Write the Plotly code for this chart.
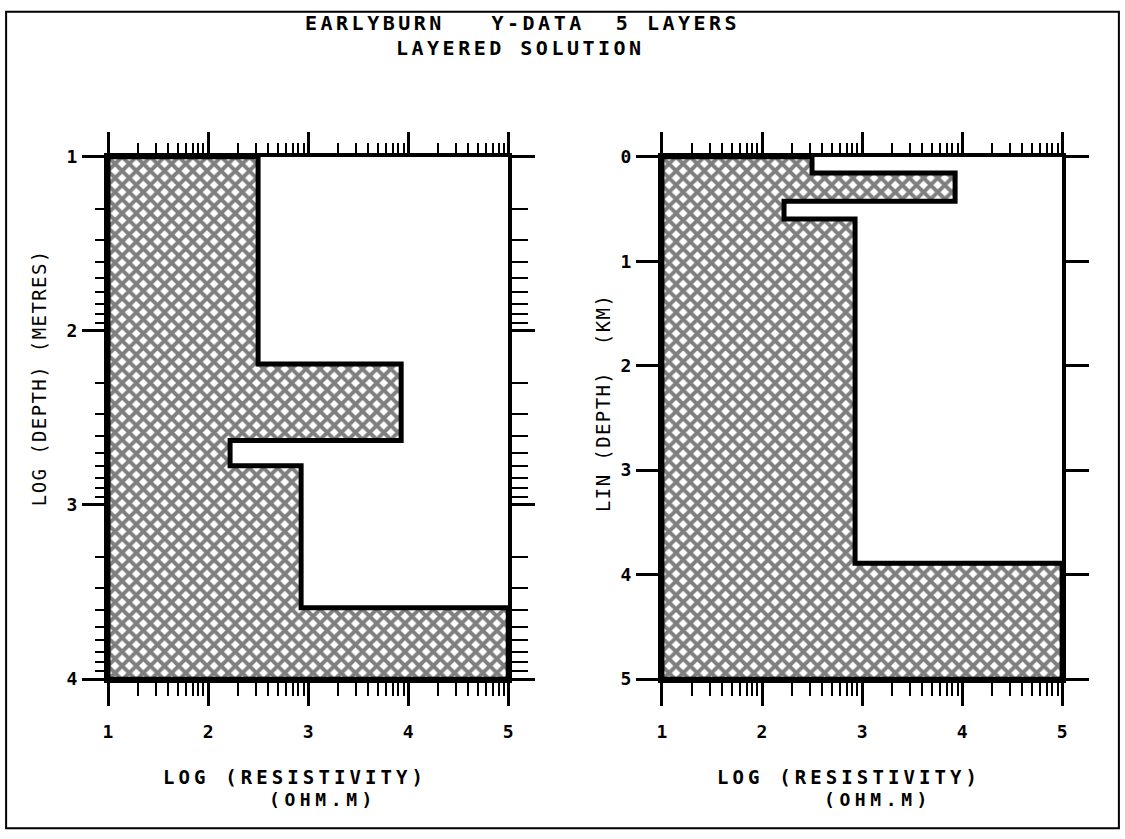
import math
import plotly.graph_objects as go

# ---- data ----
layer_log_resistivity = [2.50, 3.93, 2.22, 2.93, 5.00]   # log10(ohm.m), layers 1..5
interface_log_depth = [2.19, 2.63, 2.775, 3.59]          # log10(depth in metres)
x_ticks = [1, 2, 3, 4, 5]
left_y_ticks = [1, 2, 3, 4]
right_y_ticks = [0, 1, 2, 3, 4, 5]

W, H = 1125, 839
# map positions measured on the reference picture to paper coordinates
def px(x): return ((x - 3.8) / 0.993) / W
def py(y): return 1 - ((y - 8.8) / 0.978) / H

def step_polygon(rhos, depths, top, bottom):
    xs = [1, rhos[0]]
    ys = [top, top]
    for i, d in enumerate(depths):
        xs += [rhos[i], rhos[i + 1]]
        ys += [d, d]
    xs += [rhos[-1], 1, 1]
    ys += [bottom, bottom, top]
    return xs, ys

xl, yl = step_polygon(layer_log_resistivity, interface_log_depth, 1, 4)
depth_km = [10 ** d / 1000 for d in interface_log_depth]
xr, yr = step_polygon(layer_log_resistivity, depth_km, 0, 5)

pattern = dict(shape="x", size=10, solidity=0.62, fgcolor="black", bgcolor="white")

fig = go.Figure()
fig.add_trace(go.Scatter(x=xl, y=yl, mode="lines", fill="toself", fillcolor="white",
                         fillpattern=pattern, line=dict(color="black", width=5),
                         xaxis="x", yaxis="y", hoverinfo="skip", showlegend=False))
fig.add_trace(go.Scatter(x=xr, y=yr, mode="lines", fill="toself", fillcolor="white",
                         fillpattern=pattern, line=dict(color="black", width=5),
                         xaxis="x2", yaxis="y2", hoverinfo="skip", showlegend=False))
# invisible traces so that the mirrored (top / right) axes get drawn
fig.add_trace(go.Scatter(x=xl, y=yl, mode="lines", opacity=0, line=dict(width=0),
                         xaxis="x3", yaxis="y3", hoverinfo="skip", showlegend=False))
fig.add_trace(go.Scatter(x=xr, y=yr, mode="lines", opacity=0, line=dict(width=0),
                         xaxis="x4", yaxis="y4", hoverinfo="skip", showlegend=False))

log_minor_x = [i + math.log10(k) for i in range(1, 5) for k in range(2, 10)]
log_minor_y = [i + math.log10(k) for i in range(1, 4) for k in range(2, 10)]

MONO = "DejaVu Sans Mono"
tickfont = dict(family=MONO, size=18, color="black")
L = dict(showgrid=False, zeroline=False, showline=True, linecolor="black", linewidth=4,
         ticks="outside", tickcolor="black", tickwidth=3)

dl = [px(107), px(508)]
dr = [px(662), px(1063)]
dy = [py(679), py(155)]

def xa(domain, anchor, side, ticklen, minorlen, labels, overlay=None):
    d = dict(L, domain=domain, anchor=anchor, side=side, range=[1, 5],
             tickmode="array", tickvals=x_ticks, ticktext=[f"<b>{v}</b>" for v in x_ticks],
             ticklen=ticklen, showticklabels=labels, tickfont=tickfont,
             ticklabelstandoff=10,
             minor=dict(tickmode="array", tickvals=log_minor_x, ticks="outside",
                        ticklen=minorlen, tickwidth=2, tickcolor="black", showgrid=False))
    if overlay:
        d["overlaying"] = overlay
    return d

def ya(rng, ticks, minor_vals, side, anchor, ticklen, minorlen, labels, overlay=None):
    d = dict(L, domain=dy, anchor=anchor, side=side, range=rng,
             tickmode="array", tickvals=ticks, ticktext=[f"<b>{v}</b>" for v in ticks],
             ticklen=ticklen, showticklabels=labels, tickfont=tickfont,
             ticklabelstandoff=1)
    if minor_vals:
        d["minor"] = dict(tickmode="array", tickvals=minor_vals, ticks="outside",
                          ticklen=minorlen, tickwidth=2, tickcolor="black", showgrid=False)
    if overlay:
        d["overlaying"] = overlay
    return d

fig.update_layout(
    width=W, height=H, margin=dict(l=0, r=0, t=0, b=0),
    paper_bgcolor="white", plot_bgcolor="white",
    xaxis=xa(dl, "y", "bottom", 23, 13, True),
    xaxis3=xa(dl, "y3", "top", 21, 10, False, overlay="x"),
    xaxis2=xa(dr, "y2", "bottom", 23, 13, True),
    xaxis4=xa(dr, "y4", "top", 21, 10, False, overlay="x2"),
    yaxis=ya([4, 1], left_y_ticks, log_minor_y, "left", "x", 22, 9, True),
    yaxis3=ya([4, 1], left_y_ticks, log_minor_y, "right", "x3", 23, 16, False, overlay="y"),
    yaxis2=ya([5, 0], right_y_ticks, None, "left", "x2", 22, 0, True),
    yaxis4=ya([5, 0], right_y_ticks, None, "right", "x4", 23, 0, False, overlay="y2"),
)

def spaced(t, ls, bold=True):
    s = f'<span style="letter-spacing:{ls}px">{t}</span>'
    return f"<b>{s}</b>" if bold else s

title_font = dict(family=MONO, size=20, color="black")
lab_font = dict(family=MONO, size=19, color="black")
sub_font = dict(family=MONO, size=18, color="black")
yt_font = dict(family=MONO, size=19, color="black")

ann = [
    dict(text=spaced("EARLYBURN   Y-DATA  5 LAYERS", 3.5), x=px(522), y=py(21), font=title_font),
    dict(text=spaced("LAYERED SOLUTION", 3.5), x=px(520), y=py(46), font=title_font),
    dict(text=spaced("LOG (RESISTIVITY)", 4.1), x=px(294), y=py(777), font=lab_font),
    dict(text=spaced("(OHM.M)", 4.6), x=px(322), y=py(800), font=sub_font),
    dict(text=spaced("LOG (RESISTIVITY)", 4.1), x=px(849), y=py(777), font=lab_font),
    dict(text=spaced("(OHM.M)", 4.6), x=px(878), y=py(800), font=sub_font),
    dict(text=spaced("LOG (DEPTH) (METRES)", 1.4, bold=False), x=px(38), y=py(377),
         font=yt_font, textangle=-90),
    dict(text=spaced("LIN (DEPTH)  (KM)", 1.4, bold=False), x=px(603), y=py(402),
         font=yt_font, textangle=-90),
]
for a in ann:
    fig.add_annotation(xref="paper", yref="paper", showarrow=False,
                       xanchor="center", yanchor="middle", **a)

fig.add_shape(type="rect", xref="paper", yref="paper",
              x0=max(px(3), 0.001), x1=min(px(1122), 0.999),
              y0=max(py(835), 0.001), y1=min(py(8), 0.999),
              line=dict(color="black", width=2))

post = (
    "document.documentElement.style.margin='0';"
    "document.body.style.margin='0';"
    "document.body.style.overflow='hidden';"
)
fig.write_html("out.html", post_script=post, config={"displayModeBar": False})
